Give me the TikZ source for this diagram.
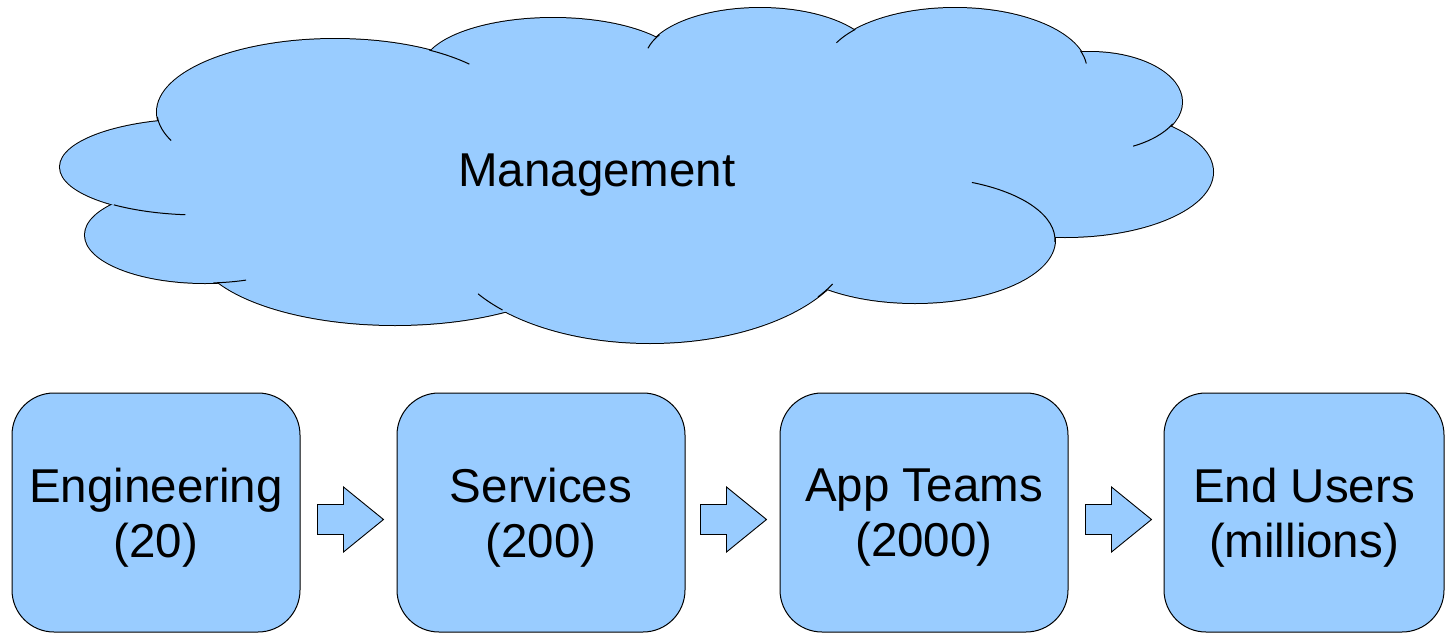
\documentclass[tikz,border=0pt]{standalone}
\usepackage{fontspec}
\setmainfont{Liberation Sans}
\definecolor{skyfill}{HTML}{99CCFF}
\newcommand\bigfont{\fontsize{47.5}{55}\selectfont}
\begin{document}
\begin{tikzpicture}[x=1pt,y=-1pt,
  box/.style={draw=black, line width=1pt, fill=skyfill, rounded corners=42pt,
    minimum width=288pt, minimum height=239pt, inner sep=0pt},
  boxtext/.style={inner sep=0pt, align=center, font=\bigfont},
  cloudedge/.style={draw=black, line width=2pt},
  cloudfill/.style={fill=skyfill},
  cloudinner/.style={draw=black, line width=1pt},
  arrowstyle/.style={draw=black, line width=0.9pt, fill=skyfill, line join=miter},
  barrow/.pic={\path[arrowstyle] (0,-15) -- (26,-15) -- (26,-32.5) -- (66,0) -- (26,32.5) -- (26,15) -- (0,15) -- cycle;}
]
\useasboundingbox (0,0) rectangle (1446,632);

% cloud: outlines of the lobes
\foreach \cx/\cy/\rx/\ry in {335/112/178/73, 200/167/140/48, 205/235/120/48, 395/245/200/80,
  650/235/205/108, 915/240/140/63, 1065/172/148/65, 1090/102/92/50, 955/70/132/62,
  760/60/115/52, 553/68/130/50}
  \path[cloudedge] (\cx,\cy) ellipse [x radius=\rx, y radius=\ry];
% cloud: fill
\foreach \cx/\cy/\rx/\ry in {335/112/178/73, 200/167/140/48, 205/235/120/48, 395/245/200/80,
  650/235/205/108, 915/240/140/63, 1065/172/148/65, 1090/102/92/50, 955/70/132/62,
  760/60/115/52, 553/68/130/50, 640/175/450/110}
  \path[cloudfill] (\cx,\cy) ellipse [x radius=\rx, y radius=\ry];
% cloud: inner strokes
\foreach \cx/\cy/\rx/\ry/\a/\b in {335/112/178/73/176/157, 200/167/140/48/128/96,
  205/235/120/48/86/70, 650/235/205/108/136/147, 650/235/205/108/35/27,
  915/240/140/63/2/-66, 1090/102/92/50/26/62, 955/70/132/62/-18/-6,
  955/70/132/62/-139/-154, 760/60/115/52/-151/-167, 335/112/178/73/-58/-41}
  \path[cloudinner] ({\cx+\rx*cos(\a)},{\cy+\ry*sin(\a)}) arc [start angle=\a, end angle=\b, x radius=\rx, y radius=\ry];

\node[boxtext] (mgmt) at (597,175) {Management};

\node[box] (eng) at (156,512.5) {};
\node[box] (svc) at (541,512.5) {};
\node[box] (app) at (924,512.5) {};
\node[box, minimum width=280pt] (usr) at (1304,512.5) {};

\node[boxtext] (engT) at ([yshift=-5pt]eng.center) {Engineering\\(20)};
\node[boxtext] (svcT) at ([yshift=-5pt]svc.center) {Services\\(200)};
\node[boxtext] (appT) at ([yshift=-5pt]app.center) {App Teams\\(2000)};
\node[boxtext] (usrT) at ([yshift=-5pt]usr.center) {End Users\\(millions)};

\pic at ([xshift=17pt,yshift=-7pt]eng.east) {barrow};
\pic at ([xshift=15pt,yshift=-7pt]svc.east) {barrow};
\pic at ([xshift=17pt,yshift=-7pt]app.east) {barrow};
\end{tikzpicture}
\end{document}
